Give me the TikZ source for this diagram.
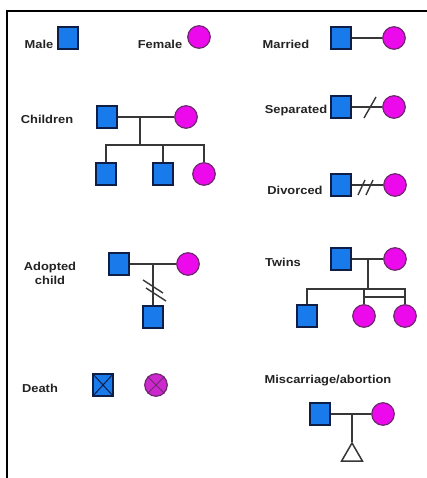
\documentclass[tikz,border=0pt]{standalone}
\usepackage{fontspec}
\newfontfamily\lblfont[FakeStretch=1.12]{Liberation Sans}
\usetikzlibrary{shapes.geometric,calc}
\definecolor{sqfill}{RGB}{24,122,235}
\definecolor{sqline}{RGB}{15,30,70}
\definecolor{cifill}{RGB}{236,10,236}
\definecolor{ciline}{RGB}{110,40,110}
\definecolor{dcfill}{RGB}{205,40,205}
\definecolor{lnc}{RGB}{55,55,55}
\definecolor{txc}{RGB}{35,35,35}
\tikzset{
  male/.style={rectangle, draw=sqline, fill=sqfill, line width=1.2pt, minimum width=20pt, minimum height=22pt, inner sep=0pt},
  female/.style={circle, draw=ciline, fill=cifill, line width=1.2pt, minimum size=22.5pt, inner sep=0pt},
  lbl/.style={font=\lblfont\fontsize{11.5}{13}\selectfont\bfseries, text=txc, inner sep=0pt, align=center},
  conn/.style={draw=lnc, line width=1.6pt},
  slash/.style={draw=lnc, line width=1.4pt},
  frame/.style={draw=black, line width=2.2pt},
  tri/.style={regular polygon, regular polygon sides=3, draw=lnc, line width=1.5pt, minimum size=24pt, inner sep=0pt}
}
\begin{document}
\begin{tikzpicture}[x=1pt, y=-1pt]
\useasboundingbox (0,0) rectangle (427,478);
\fill[white] (0,0) rectangle (427,478);
\draw[frame] (7,478) -- (7,11) -- (428,11);

% Male / Female
\node[lbl] (lmale) at (39,44) {Male};
\node[male] (smale) at (68,38) {};
\node[lbl] (lfemale) at (160,44) {Female};
\node[female] (cfemale) at (199,37) {};

% Married
\node[lbl] (lmar) at (286,44) {Married};
\node[male] (mar1) at (341,38) {};
\node[female] (mar2) at (394,38) {};
\draw[conn] (mar1) -- (mar2);

% Children
\node[lbl] (lchi) at (47,119) {Children};
\node[male] (cp1) at (107,117) {};
\node[female] (cp2) at (186,117) {};
\node[male] (c1) at (106,174) {};
\node[male] (c2) at (163,174) {};
\node[female] (c3) at (204,174) {};
\coordinate (cm) at (140,117);
\coordinate (cb) at (140,145);
\draw[conn] (cp1) -- (cp2);
\draw[conn] (cm) -- (cb);
\draw[conn] (c1.north) |- (cb) -| (c3.north);
\draw[conn] (c2.north) -- (c2 |- cb);

% Separated
\node[lbl] (lsep) at (296,111) {Separated};
\node[male] (sep1) at (341,107) {};
\node[female] (sep2) at (394,107) {};
\draw[conn] (sep1) -- (sep2);
\coordinate (sp) at (370,107);
\draw[slash] ($(sp)+(-6,11)$) -- ($(sp)+(6,-10)$);

% Divorced
\node[lbl] (ldiv) at (295,190) {Divorced};
\node[male] (div1) at (341,185) {};
\node[female] (div2) at (395,185) {};
\draw[conn] (div1) -- (div2);
\coordinate (dp) at (366,188);
\draw[slash] ($(dp)+(-8,7)$) -- ($(dp)+(-1,-8)$);
\draw[slash] ($(dp)+(0,7)$) -- ($(dp)+(7,-8)$);

% Adopted child
\node[lbl] (ladop) at (50,273) {Adopted\\[1pt]child};
\node[male] (ad1) at (119,264) {};
\node[female] (ad2) at (188,264) {};
\node[male] (adc) at (153,317) {};
\coordinate (am) at (153,264);
\draw[conn] (ad1) -- (ad2);
\draw[conn] (am) -- (adc.north);
\draw[slash] (143,280) -- (163,293);
\draw[slash] (146,288) -- (166,301);

% Twins
\node[lbl] (ltw) at (283,262) {Twins};
\node[male] (tw1) at (341,259) {};
\node[female] (tw2) at (395,259) {};
\node[male] (tc1) at (307,316) {};
\node[female] (tc2) at (364,316) {};
\node[female] (tc3) at (405,316) {};
\coordinate (tm) at (368,259);
\coordinate (tb) at (368,289);
\coordinate (tt) at (368,297);
\draw[conn] (tw1) -- (tw2);
\draw[conn] (tm) -- (tb);
\draw[conn] (tc1.north) |- (tb) -| (tc3.north);
\draw[conn] (tc2.north) -- (tc2 |- tb);
\draw[conn] (tc2 |- tt) -- (tc3 |- tt);

% Death
\node[lbl] (ldeath) at (40,388) {Death};
\node[male] (dm) at (103,385) {};
\draw[draw=sqline, line width=1pt] (dm.north west) -- (dm.south east);
\draw[draw=sqline, line width=1pt] (dm.north east) -- (dm.south west);
\node[female, fill=dcfill] (df) at (156,385) {};
\draw[draw=ciline, line width=1pt] (df.north west) -- (df.south east);
\draw[draw=ciline, line width=1pt] (df.north east) -- (df.south west);

% Miscarriage/abortion
\node[lbl] (lmis) at (328,381) {Miscarriage/abortion};
\node[male] (mi1) at (320,414) {};
\node[female] (mi2) at (383,414) {};
\coordinate (mm) at (352,414);
\node[tri] (mt) at (352,455) {};
\draw[conn] (mi1) -- (mi2);
\draw[conn] (mm) -- (mt.corner 1);
\end{tikzpicture}
\end{document}
